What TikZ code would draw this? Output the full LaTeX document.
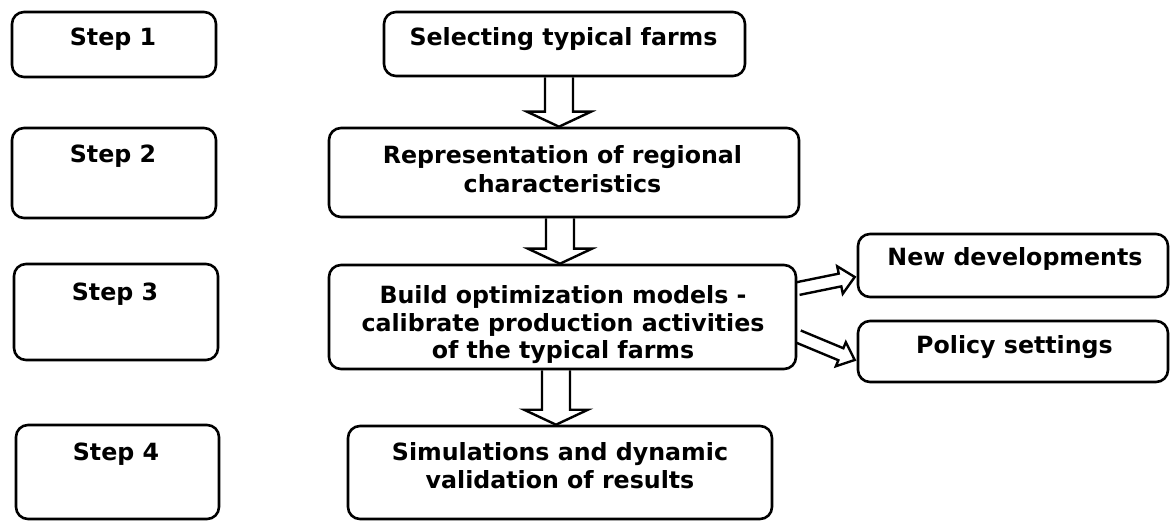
\documentclass[tikz,border=0pt]{standalone}
\usepackage{fontspec}
\setmainfont{DejaVu Sans}
\usetikzlibrary{calc}
\tikzset{
  box/.style={draw=black, line width=2.6pt, rounded corners=12pt, inner sep=0pt, fill=white},
  txt/.style={anchor=base, inner sep=0pt, font=\fontsize{23.7}{28}\selectfont\bfseries},
  arr/.style={draw=black, line width=2.4pt, line join=miter}
}
\newcommand\hollowarrow[5]{%
  \coordinate (ha) at ($(#2)!#5!(#1)$);
  \draw[arr] ($(#1)!#3!90:(#2)$) -- ($(ha)!#3!90:(#2)$) -- ($(ha)!#4!90:(#2)$) -- (#2)
    -- ($(ha)!#4!-90:(#2)$) -- ($(ha)!#3!-90:(#2)$) -- ($(#1)!#3!-90:(#2)$);
}
\begin{document}
\begin{tikzpicture}[x=1pt,y=-1pt]
\useasboundingbox (0,0) rectangle (1170,521);
% step boxes
\node[box, minimum width=204pt, minimum height=65pt] (s1) at (114,44.5) {};
\node[box, minimum width=204pt, minimum height=90pt] (s2) at (114,173) {};
\node[box, minimum width=204pt, minimum height=96pt] (s3) at (116,312) {};
\node[box, minimum width=203pt, minimum height=94pt] (s4) at (117.5,472) {};
% main boxes
\node[box, minimum width=361pt, minimum height=64pt] (sel) at (564.5,44) {};
\node[box, minimum width=470pt, minimum height=89pt] (rep) at (564,172.5) {};
\node[box, minimum width=467pt, minimum height=104pt] (bld) at (562.5,317) {};
\node[box, minimum width=424pt, minimum height=93pt] (sim) at (560,472.5) {};
\node[box, minimum width=310pt, minimum height=63pt] (new) at (1013,265.5) {};
\node[box, minimum width=310pt, minimum height=61pt] (pol) at (1013,351.5) {};
% texts
\node[txt] (t1) at (113,45.5) {Step 1};
\node[txt] (t2) at (113,162.5) {Step 2};
\node[txt] (t3) at (115,300.5) {Step 3};
\node[txt] (t4) at (116,460.5) {Step 4};
\node[txt] (tsel) at (563.5,45.5) {Selecting typical farms};
\node[txt] (trep1) at (562.5,163.5) {Representation of regional};
\node[txt] (trep2) at (562.5,192.5) {characteristics};
\node[txt] (tbld1) at (563,303.5) {Build optimization models -};
\node[txt] (tbld2) at (563,331.5) {calibrate production activities};
\node[txt] (tbld3) at (563,358.5) {of the typical farms};
\node[txt] (tsim1) at (560,460.5) {Simulations and dynamic};
\node[txt] (tsim2) at (560,488.5) {validation of results};
\node[txt] (tnew) at (1015,265.5) {New developments};
\node[txt] (tpol) at (1014.5,353.5) {Policy settings};
% arrows
\coordinate (a1s) at ($(sel.south)+(-5.5,0)$);
\coordinate (a1e) at ($(rep.north)+(-5,0)$);
\coordinate (a2s) at ($(rep.south)+(-4,0)$);
\coordinate (a2e) at ($(bld.north)+(-2.5,0)$);
\coordinate (a3s) at ($(bld.south)+(-6.5,0)$);
\coordinate (a3e) at ($(sim.north)+(-4,0)$);
\coordinate (a4s) at ($(bld.east)+(1,-28.5)$);
\coordinate (a4e) at ($(new.west)+(-2,11.5)$);
\coordinate (a5s) at ($(bld.east)+(1,19.5)$);
\coordinate (a5e) at ($(pol.west)+(-2,8.5)$);
\hollowarrow{a1s}{a1e}{14pt}{32pt}{15pt}
\hollowarrow{a2s}{a2e}{14pt}{32pt}{15pt}
\hollowarrow{a3s}{a3e}{14pt}{32pt}{15pt}
\hollowarrow{a4s}{a4e}{6.5pt}{14pt}{15pt}
\hollowarrow{a5s}{a5e}{6.5pt}{13pt}{15pt}
\end{tikzpicture}
\end{document}
